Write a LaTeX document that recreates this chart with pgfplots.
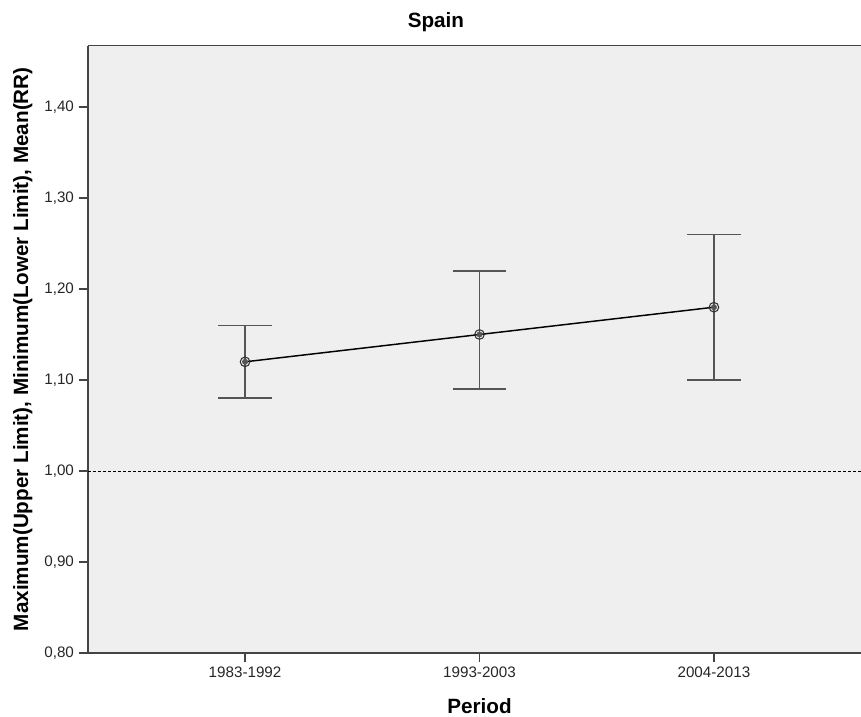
\documentclass[border=0pt]{standalone}
\usepackage{fontspec}
\setmainfont{Liberation Sans}
\usepackage{pgfplots}
\pgfplotsset{compat=1.18}
\definecolor{bgc}{HTML}{EFEFEF}
\definecolor{axc}{HTML}{444444}
\definecolor{errc}{HTML}{555555}
\begin{document}
\begin{tikzpicture}
\useasboundingbox (-66pt,-48pt) rectangle (579.75pt,489.75pt);
\begin{axis}[
  at={(0,0)}, anchor=south west,
  scale only axis, width=587.25pt, height=455.6pt,
  xmin=-0.67, xmax=2.67, ymin=0.8, ymax=1.4676,
  axis background/.style={fill=bgc},
  axis x line*=box, axis y line*=left,
  axis line style={draw=axc, line width=1.3pt},
  xtick={0,1,2}, xticklabels={1983-1992,1993-2003,2004-2013},
  ytick={0.8,0.9,1.0,1.1,1.2,1.3,1.4},
  xtick pos=bottom, ytick pos=left, tick align=outside,
  major tick length=7pt,
  tick style={draw=axc, line width=1.1pt},
  /pgf/number format/assume math mode=true,
  y tick label style={/pgf/number format/.cd, fixed, fixed zerofill, precision=2, use comma},
  ticklabel style={font=\fontsize{11.4}{13}\selectfont, text=black!85},
  title={Spain},
  title style={at={(axis description cs:0.4444,1.0157)}, anchor=base, font=\bfseries\fontsize{15.5}{18}\selectfont},
  xlabel={Period},
  xlabel style={at={(axis description cs:0.5,-0.0988)}, anchor=base, font=\bfseries\fontsize{15.5}{18}\selectfont},
  ylabel={Maximum(Upper Limit), Minimum(Lower Limit), Mean(RR)},
  ylabel style={at={(axis description cs:-0.0766,0.5)}, anchor=base, font=\bfseries\fontsize{15.5}{18}\selectfont},
]
\addplot[only marks, mark=none, errc,
  error bars/.cd, y dir=both, y explicit,
  error bar style={draw=errc, line width=1.1pt},
  error mark options={rotate=90, draw=errc, line width=1.1pt, mark size=20pt}]
  coordinates {
  (0,1.12) += (0,0.04) -= (0,0.04)
  (1,1.15) += (0,0.07) -= (0,0.06)
  (2,1.18) += (0,0.08) -= (0,0.08)
  };
\addplot[black, line width=0.75pt, dash pattern=on 2.25pt off 1.5pt, mark=none]
  coordinates {(-0.67,1.00) (2.67,1.00)};
\addplot[black, line width=1.1pt, mark=o, mark size=3.6pt, mark options={draw=black!80, line width=0.8pt, solid}]
  coordinates {(0,1.12) (1,1.15) (2,1.18)};
\end{axis}
\end{tikzpicture}
\end{document}
